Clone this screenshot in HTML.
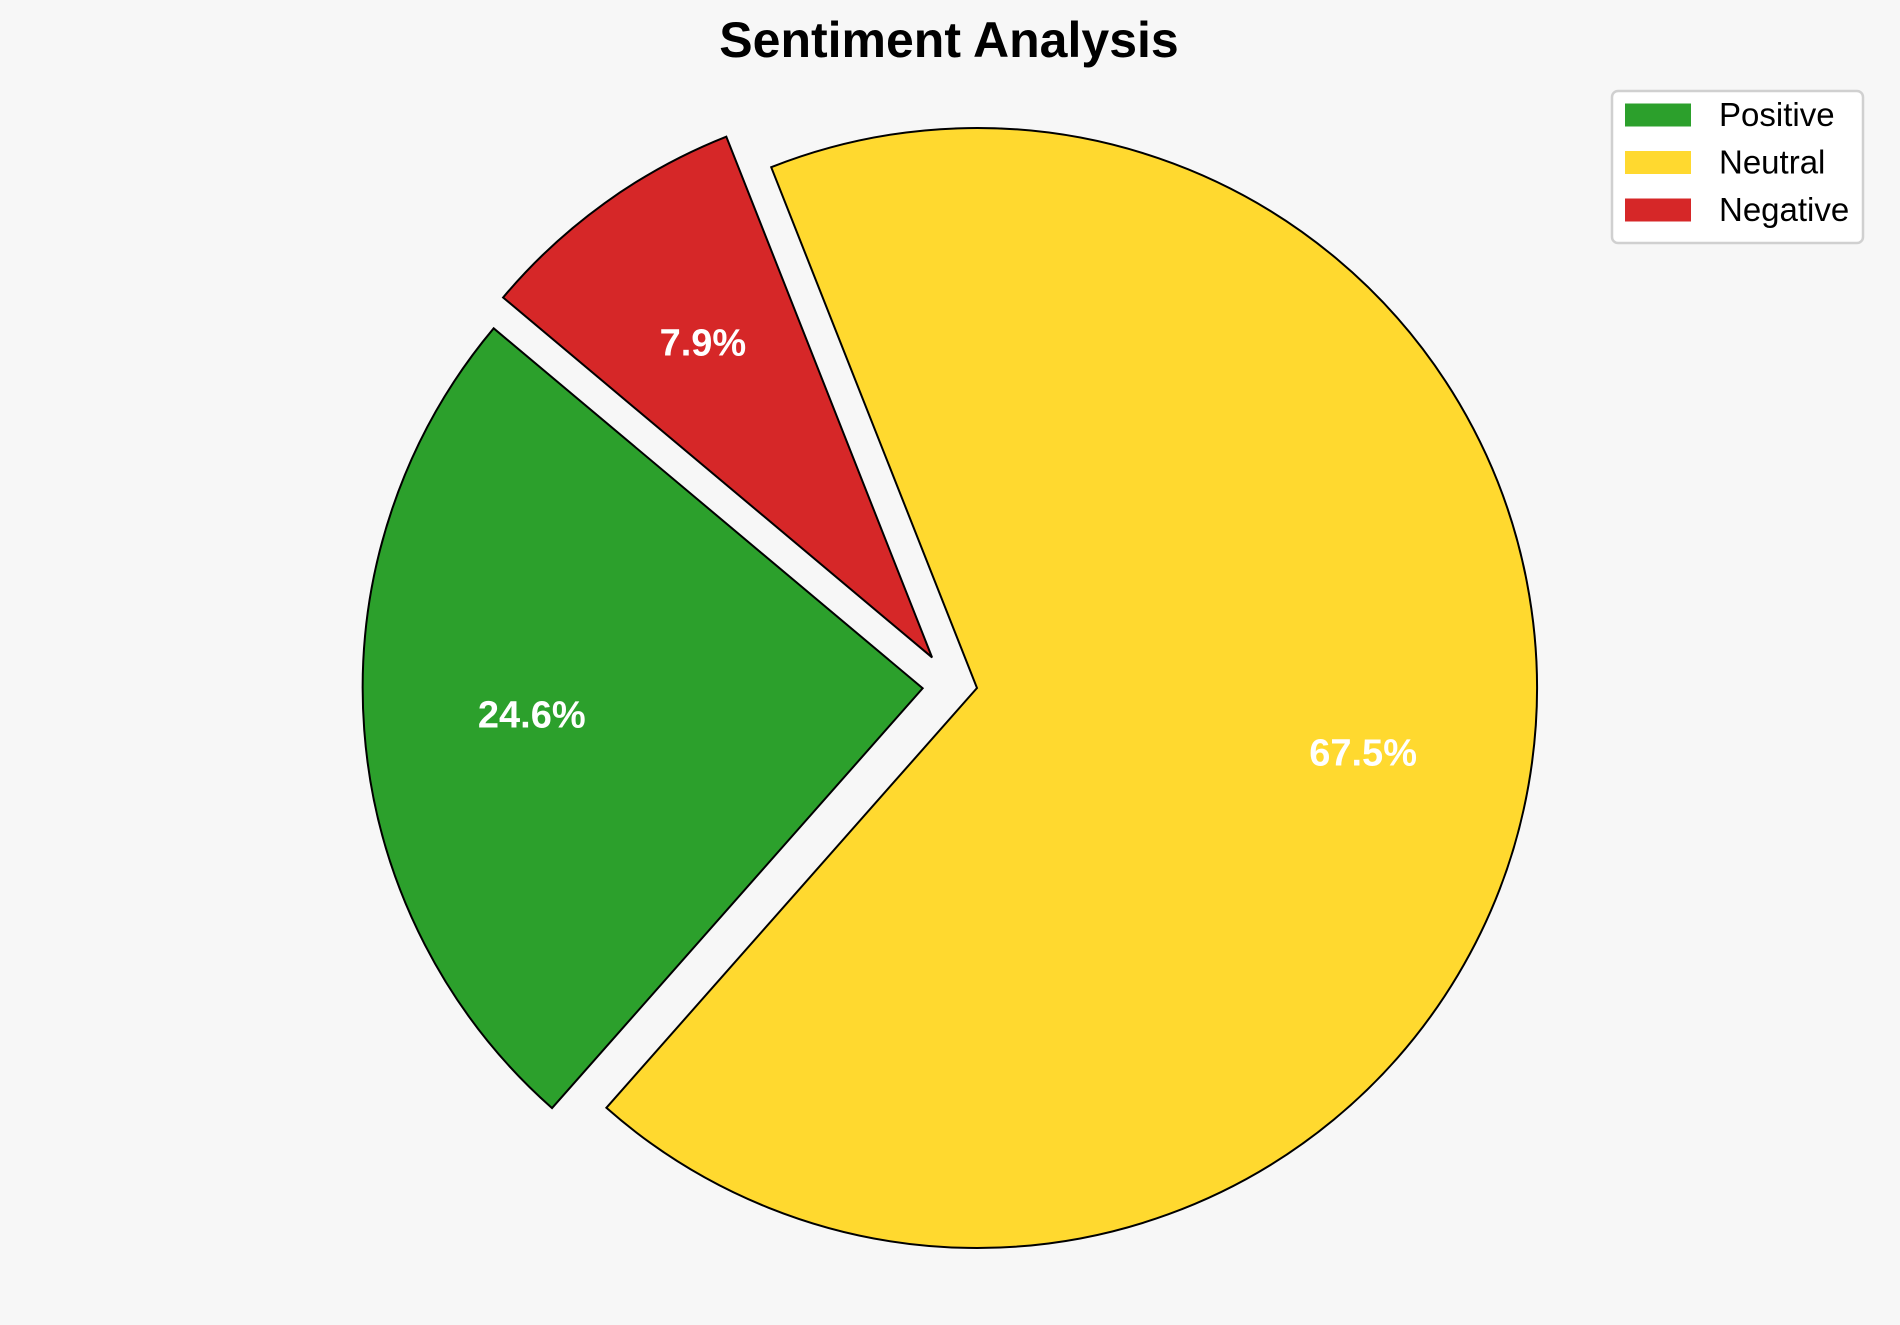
<!DOCTYPE html>
<html><head><meta charset="utf-8"><style>
html,body{margin:0;padding:0;background:#f7f7f7;}
svg{display:block;font-family:"Liberation Sans",sans-serif;}
</style></head><body>
<svg id="chart" width="1900" height="1325">
<rect width="1900" height="1325" fill="#f7f7f7"/>
<text x="949" y="57" text-anchor="middle" font-size="50" font-weight="bold" fill="#000">Sentiment Analysis</text>
<g id="slices"></g>
<g id="labels"></g>
<g>
<rect x="1612" y="91" width="251" height="152" rx="6" fill="#fff" stroke="#d0d0d0" stroke-width="2.5"/>
<g id="legend-items"></g>
</g>
</svg>
<script>
const categories = ["Positive", "Neutral", "Negative"];
const values = [24.6, 67.5, 7.9];
const colors = ["#2ca02c", "#ffd92f", "#d62728"];
const explode = [0.097, 0, 0.097];
const explodeDirShift = [-4, 0, 20];
const startAngle = 140;
const cx = 977, cy = 688, r = 560;
const NS = "http://www.w3.org/2000/svg";
const total = values.reduce((a,b)=>a+b,0);
const slicesG = document.getElementById("slices");
const labelsG = document.getElementById("labels");
const legendG = document.getElementById("legend-items");
function pt(a, rad, ox, oy){ const t=a*Math.PI/180; return [ox+rad*Math.cos(t), oy-rad*Math.sin(t)]; }
let a0 = startAngle;
values.forEach((v,i)=>{
  const sweep = v/total*360;
  const a1 = a0 + sweep;
  const mid = (a0+a1)/2;
  const [ox, oy] = pt(mid + explodeDirShift[i], explode[i]*r, cx, cy);
  const p0 = pt(a0, r, ox, oy), p1 = pt(a1, r, ox, oy);
  const large = sweep > 180 ? 1 : 0;
  const path = document.createElementNS(NS, "path");
  path.setAttribute("d", `M${ox},${oy} L${p0[0]},${p0[1]} A${r},${r} 0 ${large} 0 ${p1[0]},${p1[1]} Z`);
  path.setAttribute("fill", colors[i]);
  path.setAttribute("stroke", "#000");
  path.setAttribute("stroke-width", "2");
  
  
  slicesG.appendChild(path);
  const lp = pt(mid, 0.7*r, ox, oy);
  const t = document.createElementNS(NS, "text");
  t.setAttribute("x", lp[0]); t.setAttribute("y", lp[1] + (i === 2 ? 16 : 10));
  t.setAttribute("text-anchor", "middle");
  t.setAttribute("font-size", "38"); t.setAttribute("font-weight", "bold");
  t.setAttribute("fill", "#fff");
  t.textContent = v.toFixed(1) + "%";
  
  
  labelsG.appendChild(t);
  const y = 115 + i*47.5;
  const sw = document.createElementNS(NS, "rect");
  sw.setAttribute("x", 1625); sw.setAttribute("y", y-11.5);
  sw.setAttribute("width", 66); sw.setAttribute("height", 23);
  sw.setAttribute("fill", colors[i]);
  
  
  legendG.appendChild(sw);
  const lt = document.createElementNS(NS, "text");
  lt.setAttribute("x", 1719); lt.setAttribute("y", y+11);
  lt.setAttribute("font-size", "33"); lt.setAttribute("fill", "#000");
  lt.textContent = categories[i];
  
  
  legendG.appendChild(lt);
  a0 = a1;
});
</script>
</body></html>
